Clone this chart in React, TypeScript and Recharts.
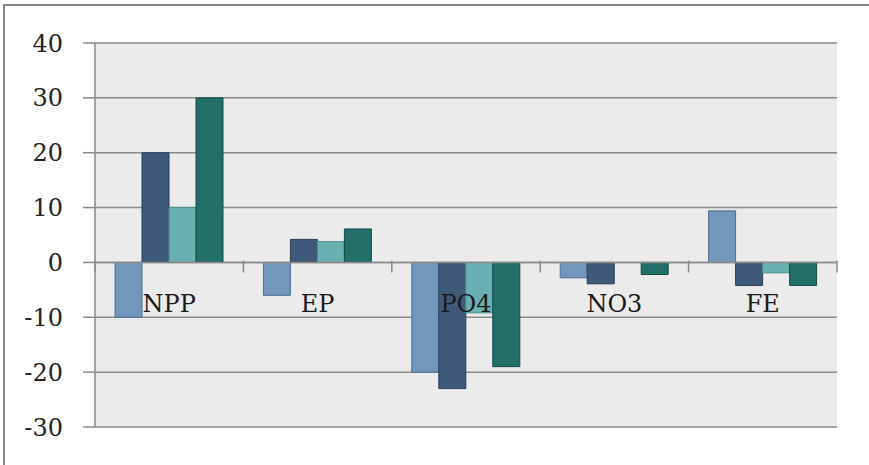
import React from 'react';
import { BarChart, Bar, XAxis, YAxis, CartesianGrid, ReferenceLine } from 'recharts';

// Categories along the horizontal axis
const categories = ['NPP', 'EP', 'PO4', 'NO3', 'FE'];

// Four series of changes per category
const series1 = [-10, -6, -20, -2.8, 9.4];
const series2 = [20, 4.2, -23, -3.9, -4.2];
const series3 = [10, 3.8, -9.2, 0, -1.9];
const series4 = [30, 6.1, -19, -2.2, -4.2];

// Value axis
const yDomain: [number, number] = [-30, 40];
const yTicks = [-30, -20, -10, 0, 10, 20, 30, 40];

const data = categories.map((name, i) => ({
  name,
  s1: series1[i],
  s2: series2[i],
  s3: series3[i],
  s4: series4[i],
}));

const CHART_W = 869;
const CHART_H = 465;
const X_AXIS_H = 30;
const MARGIN = { top: 43, right: 32, left: 0, bottom: 38 - X_AXIS_H };
const Y_AXIS_W = 95;
const PLOT_W = CHART_W - MARGIN.left - MARGIN.right - Y_AXIS_W;
const PLOT_H = CHART_H - MARGIN.top - MARGIN.bottom - X_AXIS_H;
const BAND = PLOT_W / categories.length;
// Pixel row of the zero value inside the plot
const ZERO_Y = MARGIN.top + (PLOT_H * (yDomain[1] - 0)) / (yDomain[1] - yDomain[0]);

const FONT = '"DejaVu Serif", serif';
const AXIS_GREY = '#8a8a8a';

// Category labels sit beneath the zero line, with tick marks between categories
const renderCategoryTick = (props: any) => {
  const { x, payload, index } = props;
  const left = x - BAND / 2;
  const right = x + BAND / 2;
  const isLast = index === categories.length - 1;
  return (
    <g key={`cat-${index}`}>
      <line x1={left} x2={left} y1={ZERO_Y - 2} y2={ZERO_Y + 10} stroke={AXIS_GREY} strokeWidth={1.5} />
      {isLast && (
        <line x1={right} x2={right} y1={ZERO_Y - 2} y2={ZERO_Y + 10} stroke={AXIS_GREY} strokeWidth={1.5} />
      )}
      <text
        x={x}
        y={ZERO_Y + 50}
        textAnchor="middle"
        fontFamily={FONT}
        fontSize={24}
        fill="#1a1a1a"
      >
        {payload.value}
      </text>
    </g>
  );
};

export default function App() {
  return (
    <div
      style={{
        position: 'absolute',
        left: 0,
        top: 0,
        width: CHART_W,
        height: CHART_H,
        background: '#ffffff',
        overflow: 'hidden',
      }}
    >
      <div
        style={{
          position: 'absolute',
          left: 3,
          top: 4,
          width: CHART_W + 20,
          height: CHART_H + 20,
          borderTop: '2px solid #8c8c8c',
          borderLeft: '2px solid #8c8c8c',
          boxSizing: 'border-box',
        }}
      />
      <div style={{ position: 'absolute', left: 0, top: 0 }}>
        <BarChart
          width={CHART_W}
          height={CHART_H}
          data={data}
          margin={MARGIN}
          barCategoryGap={20}
          barGap={0}
        >
          <CartesianGrid
            vertical={false}
            stroke={AXIS_GREY}
            strokeWidth={1.5}
            fill="#ebebeb"
            fillOpacity={1}
          />
          <XAxis
            dataKey="name"
            height={X_AXIS_H}
            axisLine={false}
            tickLine={false}
            interval={0}
            tick={renderCategoryTick}
          />
          <YAxis
            width={Y_AXIS_W}
            domain={yDomain}
            ticks={yTicks}
            interval={0}
            allowDataOverflow
            tickSize={12}
            tickMargin={20}
            axisLine={{ stroke: AXIS_GREY, strokeWidth: 1.5 }}
            tickLine={{ stroke: AXIS_GREY, strokeWidth: 1.5 }}
            tick={{ fontFamily: FONT, fontSize: 24, fill: '#222222' }}
          />
          <Bar dataKey="s1" fill="#7396bd" stroke="#4d6d93" strokeWidth={1} isAnimationActive={false} />
          <Bar dataKey="s2" fill="#3f5a79" stroke="#283d57" strokeWidth={1} isAnimationActive={false} />
          <Bar dataKey="s3" fill="#6aafb1" stroke="#4f8f91" strokeWidth={1} isAnimationActive={false} />
          <Bar dataKey="s4" fill="#226e68" stroke="#134b46" strokeWidth={1} isAnimationActive={false} />
          <ReferenceLine y={0} stroke={AXIS_GREY} strokeWidth={1.5} />
        </BarChart>
      </div>
    </div>
  );
}
